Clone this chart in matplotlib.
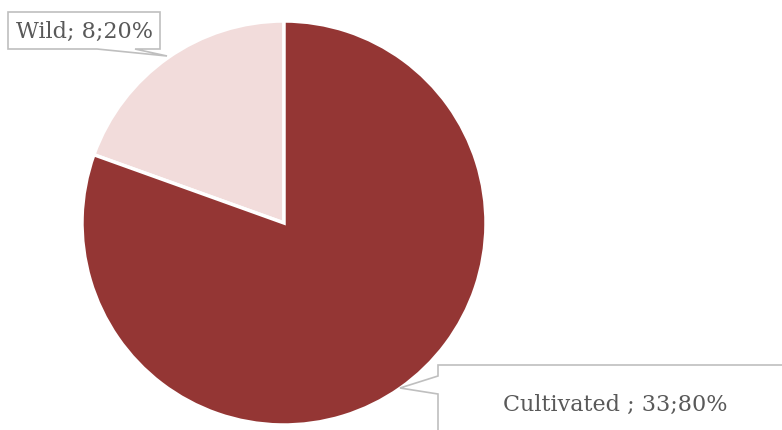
import matplotlib
matplotlib.use("Agg")
import matplotlib.pyplot as plt
from matplotlib.patches import Polygon

categories = ["Wild", "Cultivated"]
values = [8, 33]
labels = ["Wild; 8;20%", "Cultivated ; 33;80%"]
colors = ["#F2DCDB", "#943634"]

W, H = 782, 431
fig = plt.figure(figsize=(W / 100, H / 100), dpi=100)
fig.patch.set_facecolor("white")

# axes placed so pie centre ~ (284,224) px, radius ~202 px
cx, cy, r = 284, 224, 202
ax = fig.add_axes([(cx - r) / W, 1 - (cy + r) / H, 2 * r / W, 2 * r / H])
ax.pie(values, colors=colors, startangle=90, counterclock=True, radius=1,
       wedgeprops=dict(edgecolor="white", linewidth=2.5))
ax.set_xlim(-1, 1)
ax.set_ylim(-1, 1)
ax.set_aspect("equal")
ax.axis("off")

def px(pts):
    return [(x / W, 1 - y / H) for x, y in pts]

# Wild callout
wild_poly = px([(8, 13), (160, 13), (160, 50), (135, 50), (167, 57), (97, 50), (8, 50)])
fig.patches.append(Polygon(wild_poly, closed=True, transform=fig.transFigure,
                           facecolor="white", edgecolor="#BFBFBF", linewidth=1.2))
fig.text(84 / W, 1 - 32 / H, labels[0], ha="center", va="center",
         fontsize=16, family="DejaVu Serif", color="#595959")

# Cultivated callout
cult_poly = px([(438, 366), (800, 366), (800, 440), (438, 440), (438, 395), (400, 389), (438, 377)])
fig.patches.append(Polygon(cult_poly, closed=True, transform=fig.transFigure,
                           facecolor="white", edgecolor="#BFBFBF", linewidth=1.2))
fig.text(615 / W, 1 - 405 / H, labels[1], ha="center", va="center",
         fontsize=16, family="DejaVu Serif", color="#595959")

fig.savefig("out.png", dpi=100, facecolor="white")
